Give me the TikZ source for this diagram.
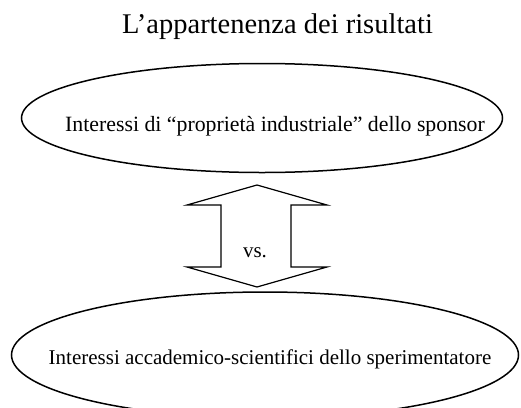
\documentclass[tikz,border=0pt]{standalone}
\usepackage{fontspec}
\setmainfont{Liberation Serif}
\usetikzlibrary{shapes.geometric}
\begin{document}
\begin{tikzpicture}[x=1pt,y=-1pt,
  every node/.style={inner sep=0pt, outer sep=0pt},
  oval/.style={ellipse, draw, line width=1.5pt},
  lbl/.style={font=\fontsize{21}{25}\selectfont, anchor=base},
  dblarrow/.style={draw, line width=1.2pt, line join=miter}]
\useasboundingbox (0,0) rectangle (521,407);
\clip (0,0) rectangle (521,407);
\node[anchor=base, font=\fontsize{28.5}{34}\selectfont] (title) at (277.5,33) {L’appartenenza dei risultati};
\node[oval, minimum width=481pt, minimum height=109pt] (e1) at (262,118) {};
\node[lbl, font=\fontsize{21.8}{26}\selectfont] (t1) at (275,131) {Interessi di “proprietà industriale” dello sponsor};
\node[oval, minimum width=507pt, minimum height=126pt] (e2) at (265,355) {};
\node[lbl] (t2) at (270,364) {Interessi accademico-scientifici dello sperimentatore};
\draw[dblarrow] (257,185) -- (327,205) -- (291,205) -- (291,267) -- (327,267) -- (257,287) -- (187,267) -- (221,267) -- (221,205) -- (187,205) -- cycle;
\node[lbl] (vs) at (255,257) {vs.};
\end{tikzpicture}
\end{document}
